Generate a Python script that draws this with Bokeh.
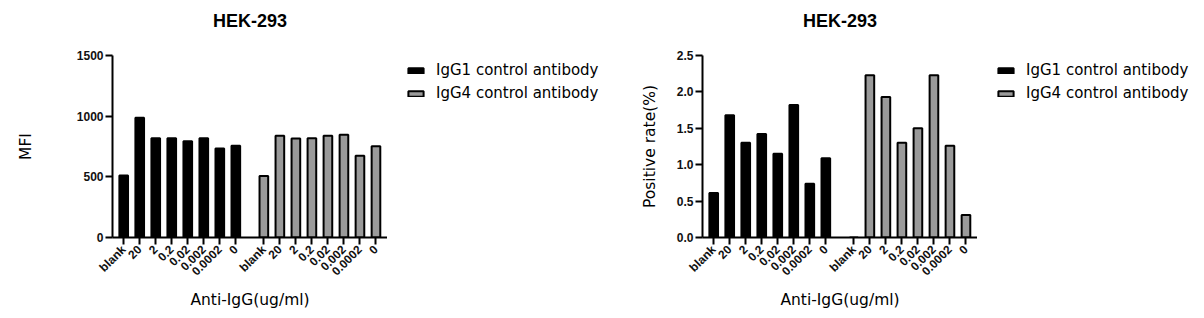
import math
import numpy as np
from bokeh.plotting import figure
from bokeh.models import Range1d, FixedTicker, Legend, LegendItem, NumeralTickFormatter
from bokeh.layouts import row
from bokeh.embed import file_html
from bokeh.resources import INLINE

# ---- data ----
concentrations = ["blank", "20", "2", "0.2", "0.02", "0.002", "0.0002", "0"]
series = ["IgG1 control antibody", "IgG4 control antibody"]
title_text = "HEK-293"
x_label = "Anti-IgG(ug/ml)"

mfi_igg1 = [511, 986, 819, 819, 794, 819, 734, 756]
mfi_igg4 = [506, 838, 816, 819, 838, 846, 673, 753]
mfi_ticks = [0, 500, 1000, 1500]

pos_igg1 = [0.61, 1.68, 1.30, 1.42, 1.15, 1.82, 0.74, 1.09]
pos_igg4 = [0.0, 2.23, 1.93, 1.30, 1.50, 2.23, 1.26, 0.31]
pos_ticks = [0.0, 0.5, 1.0, 1.5, 2.0, 2.5]

GROUP_GAP = 8.75
x1 = np.arange(len(concentrations)).astype(float)
x2 = x1 + GROUP_GAP

FONT = "Liberation Sans"
LFONT = "DejaVu Sans"
GREY = "#9a9a9a"


def make_panel(v1, v2, ylabel, yticks, ymax, fmt, border_left, ylabel_standoff):
    p = figure(width=border_left + 275, height=318, output_backend="svg", toolbar_location=None,
               x_range=Range1d(-0.7, 16.47), y_range=Range1d(0, ymax),
               min_border_left=border_left, min_border_right=0,
               min_border_top=55, min_border_bottom=81)
    p.outline_line_color = None
    p.grid.visible = False
    p.background_fill_color = "white"
    p.border_fill_color = "white"

    p.vbar(x=x1, top=v1, bottom=0, width=0.54, fill_color="black",
           line_color="black", line_width=2)
    p.vbar(x=x2, top=v2, bottom=0, width=0.54, fill_color=GREY,
           line_color="black", line_width=2)

    p.title.text = title_text + "\n"
    p.title.align = "center"
    p.title.vertical_align = "top"
    p.title.text_font = FONT
    p.title.text_font_size = "18px"
    p.title.text_font_style = "bold"
    p.title.text_color = "black"
    p.title.standoff = 6

    for ax in (p.xaxis[0], p.yaxis[0]):
        ax.axis_line_width = 2
        ax.axis_line_color = "black"
        ax.major_tick_line_width = 2
        ax.major_tick_line_color = "black"
        ax.major_tick_out = 7
        ax.major_tick_in = 0
        ax.minor_tick_line_color = None
        ax.major_label_text_font = FONT
        ax.major_label_text_font_style = "bold"
        ax.major_label_text_color = "#111111"
        ax.major_label_text_font_size = "12px"
        ax.axis_label_text_font = LFONT
        ax.axis_label_text_font_style = "normal"
        ax.axis_label_text_font_size = "15.5px"
        ax.axis_label_text_color = "black"

    ya = p.yaxis[0]
    ya.ticker = FixedTicker(ticks=yticks)
    ya.formatter = NumeralTickFormatter(format=fmt)
    ya.major_label_standoff = 2
    ya.axis_label = ylabel
    ya.axis_label_standoff = ylabel_standoff

    xa = p.xaxis[0]
    ticks = list(x1) + list(x2)
    xa.ticker = FixedTicker(ticks=ticks)
    xa.major_label_overrides = {float(t): lab for t, lab in zip(ticks, concentrations + concentrations)}
    xa.major_label_orientation = math.pi / 4
    xa.major_label_standoff = 3
    xa.axis_label = x_label
    xa.axis_label_standoff = 5
    return p


def make_legend(width, v1, v2, ymax):
    # legend-only panel; its series renderers are hidden, only the legend is shown
    q = figure(width=width, height=318, output_backend="svg", toolbar_location=None,
               x_range=Range1d(-0.7, 16.47), y_range=Range1d(0, ymax),
               x_axis_type=None, y_axis_type=None,
               min_border_left=0, min_border_right=0, min_border_top=55, min_border_bottom=81)
    q.outline_line_color = None
    q.grid.visible = False
    q.title.text = ""
    q.border_fill_color = "white"
    q.background_fill_color = "white"
    g1 = q.vbar(x=x1, top=v1, bottom=0, width=0.54, fill_color="black",
                line_color="black", line_width=2)
    g2 = q.vbar(x=x2, top=v2, bottom=0, width=0.54, fill_color=GREY,
                line_color="black", line_width=2)
    g1.visible = False
    g2.visible = False
    legend = Legend(items=[LegendItem(label=series[0], renderers=[g1]),
                           LegendItem(label=series[1], renderers=[g2])],
                    location=(19, 134), padding=0, margin=0, spacing=3,
                    glyph_width=19, glyph_height=7, label_standoff=11, label_height=20,
                    label_text_font=LFONT, label_text_font_size="15px",
                    label_text_color="black", inactive_fill_alpha=0,
                    border_line_color=None, background_fill_alpha=0)
    q.add_layout(legend)
    return q


p1 = make_panel(mfi_igg1, mfi_igg4, "MFI", mfi_ticks, 1500, "0", 112, 39)
l1 = make_legend(602 - (112 + 275), mfi_igg1, mfi_igg4, 1500)
p2 = make_panel(pos_igg1, pos_igg4, "Positive rate(%)", pos_ticks, 2.5, "0.0", 100, 15)
l2 = make_legend(602 - (100 + 275), pos_igg1, pos_igg4, 2.5)

layout = row(p1, l1, p2, l2)
open("out.html", "w").write(file_html(layout, INLINE))
